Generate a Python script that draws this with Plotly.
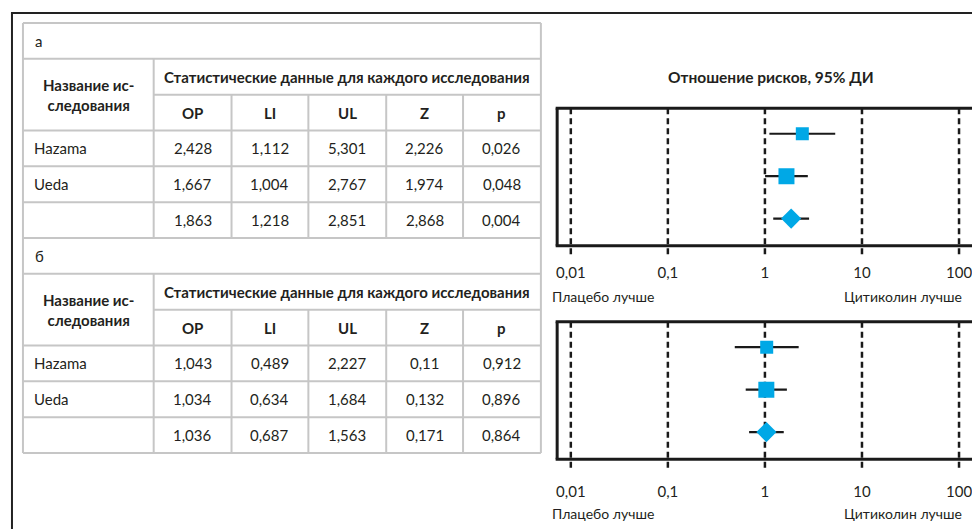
import plotly.graph_objects as go

# ---------------- data ----------------
studies = ["Hazama", "Ueda", ""]
stat_cols = ["ОР", "LI", "UL", "Z", "p"]
panel_labels = ["а", "б"]

a_or = [2.428, 1.667, 1.863]
a_li = [1.112, 1.004, 1.218]
a_ul = [5.301, 2.767, 2.851]
a_z = [2.226, 1.974, 2.868]
a_p = [0.026, 0.048, 0.004]

b_or = [1.043, 1.034, 1.036]
b_li = [0.489, 0.634, 0.687]
b_ul = [2.227, 1.684, 1.563]
b_z = [0.11, 0.132, 0.171]
b_p = [0.912, 0.896, 0.864]

tick_vals = [0.01, 0.1, 1, 10, 100]
tick_text = ["0,01", "0,1", "1", "10", "100"]

title_text = "Отношение рисков, 95% ДИ"
left_label = "Плацебо лучше"
right_label = "Цитиколин лучше"
name_header = "Название ис-<br>следования"
stats_header = "Статистические данные для каждого исследования"

# ---------------- layout helpers ----------------
W, H = 972, 529
FONT = "Lato"
TXT = "#231f20"
GRID = "#c6c6c6"
BLUE = "#00a8e6"
INK = "#1a1a1a"


def px(x):
    return x / W


def py(y):
    return 1 - y / H


shapes = []
annotations = []


def hline(x0, x1, y, color=GRID, width=2):
    shapes.append(dict(type="line", xref="paper", yref="paper",
                       x0=px(x0), x1=px(x1), y0=py(y), y1=py(y),
                       line=dict(color=color, width=width)))


def vline(x, y0, y1, color=GRID, width=2):
    shapes.append(dict(type="line", xref="paper", yref="paper",
                       x0=px(x), x1=px(x), y0=py(y0), y1=py(y1),
                       line=dict(color=color, width=width)))


def text(x, y, s, size=15, bold=False, anchor="center"):
    annotations.append(dict(xref="paper", yref="paper", x=px(x), y=py(y),
                            text=f"<b>{s}</b>" if bold else s,
                            showarrow=False, xanchor=anchor, yanchor="middle",
                            font=dict(family=FONT, size=size, color=TXT)))


def fmt(v):
    return str(v).replace(".", ",")


# outer frame
hline(10, W + 5, 13, color="#222222", width=2)
vline(11, 13, H + 5, color="#222222", width=2)

# ---------------- tables ----------------
TL, TR = 22, 541
col_x = [153, 231, 308, 386, 463, 541]
row0 = 23
rh = (453 - 23) / 12.0

panels = [
    (a_or, a_li, a_ul, a_z, a_p),
    (b_or, b_li, b_ul, b_z, b_p),
]

for pi, vals in enumerate(panels):
    base = pi * 6
    ys = [row0 + (base + k) * rh for k in range(7)]
    for k in range(7):
        if k == 2:
            hline(col_x[0], TR, ys[k])
        else:
            hline(TL, TR, ys[k])
    vline(TL, ys[0], ys[6])
    vline(TR, ys[0], ys[6])
    vline(col_x[0], ys[1], ys[6])
    for cx in col_x[1:-1]:
        vline(cx, ys[2], ys[6])
    text(32, (ys[0] + ys[1]) / 2, panel_labels[pi], size=15, anchor="left")
    text((TL + col_x[0]) / 2, (ys[1] + ys[3]) / 2, name_header, size=15, bold=True)
    text((col_x[0] + TR) / 2, (ys[1] + ys[2]) / 2, stats_header, size=15, bold=True)
    for ci, cname in enumerate(stat_cols):
        text((col_x[ci] + col_x[ci + 1]) / 2, (ys[2] + ys[3]) / 2, cname, size=15, bold=True)
    for r in range(3):
        yc = (ys[3 + r] + ys[4 + r]) / 2
        text(31, yc, studies[r], size=15, anchor="left")
        for ci in range(5):
            text((col_x[ci] + col_x[ci + 1]) / 2, yc, fmt(vals[ci][r]), size=15)

# ---------------- forest plots ----------------
fig = go.Figure()

row_y = [3, 2, 1]
# (box top, box bottom, dashed-line end, tick-label standoff, side-label offset)
plot_boxes = [(108.3, 245.7, 256.0, 16, 50.5), (321.7, 459.3, 471.5, 22, 54)]
yrange = [0.36, 3.6]
x_left, x_right = 557.3, W

for pi, vals in enumerate(panels):
    orv, li, ul = vals[0], vals[1], vals[2]
    xa = "x" if pi == 0 else "x2"
    ya = "y" if pi == 0 else "y2"
    lx, ly = [], []
    for r in range(3):
        lx += [li[r], ul[r], None]
        ly += [row_y[r], row_y[r], None]
    fig.add_trace(go.Scatter(x=lx, y=ly, mode="lines", xaxis=xa, yaxis=ya,
                             line=dict(color=INK, width=2.2),
                             showlegend=False, hoverinfo="skip"))
    fig.add_trace(go.Scatter(x=orv[:2], y=row_y[:2], mode="markers", xaxis=xa, yaxis=ya,
                             marker=dict(symbol="square", size=[13, 16], color=BLUE,
                                         opacity=1, line=dict(width=0)),
                             showlegend=False))
    fig.add_trace(go.Scatter(x=orv[2:], y=row_y[2:], mode="markers", xaxis=xa, yaxis=ya,
                             marker=dict(symbol="diamond", size=15.5, color=BLUE,
                                         opacity=1, line=dict(width=0)),
                             showlegend=False))

    top, bot, dash_end, _st, lab_off = plot_boxes[pi]
    for tv in tick_vals:
        shapes.append(dict(type="line", xref=xa, yref="paper", x0=tv, x1=tv,
                           y0=py(top), y1=py(dash_end), layer="below",
                           line=dict(color=INK, width=2.5, dash="6px,4px")))
    # the box is open on the right, where the figure is cut off
    shapes.append(dict(type="rect", xref="paper", yref="paper",
                       x0=px(965), x1=px(W + 10), y0=py(bot - 1.6), y1=py(top + 1.6),
                       fillcolor="white", line=dict(width=0), layer="above"))
    hline(x_left - 1.5, W + 5, top, color=INK, width=3)
    hline(x_left - 1.5, W + 5, bot, color=INK, width=3)
    vline(x_left, top, bot, color=INK, width=3)
    lab_y = bot + lab_off
    annotations.append(dict(xref="paper", yref="paper", x=px(550), y=py(lab_y),
                            text=left_label, showarrow=False, xanchor="left", yanchor="middle",
                            font=dict(family=FONT, size=14, color=TXT)))
    annotations.append(dict(xref="paper", yref="paper", x=px(965), y=py(lab_y),
                            text=right_label, showarrow=False, xanchor="right", yanchor="middle",
                            font=dict(family=FONT, size=14, color=TXT)))

annotations.append(dict(xref="paper", yref="paper", x=px(772), y=py(77),
                        text=f"<b>{title_text}</b>", showarrow=False,
                        xanchor="center", yanchor="middle",
                        font=dict(family=FONT, size=15.5, color=TXT)))

xr = [-2 - (571 - x_left) / 97.3, 2 + (x_right - 960) / 97.3]

axis_common = dict(type="log", range=xr, showgrid=False, zeroline=False, showline=False,
                   tickvals=tick_vals, ticktext=tick_text, ticks="",
                   ticklabeloverflow="allow",
                   tickfont=dict(family=FONT, size=15, color=TXT),
                   domain=[px(x_left), 1])
yaxis_common = dict(range=yrange, showgrid=False, zeroline=False, showline=False,
                    showticklabels=False, ticks="")

fig.update_layout(
    width=W, height=H, autosize=False,
    margin=dict(l=0, r=0, t=0, b=0),
    paper_bgcolor="white", plot_bgcolor="rgba(0,0,0,0)",
    xaxis=dict(**axis_common, anchor="y", ticklabelstandoff=plot_boxes[0][3]),
    xaxis2=dict(**axis_common, anchor="y2", ticklabelstandoff=plot_boxes[1][3]),
    yaxis=dict(**yaxis_common, anchor="x", domain=[py(245.7), py(108.3)]),
    yaxis2=dict(**yaxis_common, anchor="x2", domain=[py(459.3), py(321.7)]),
    shapes=shapes, annotations=annotations,
    font=dict(family=FONT),
)

fig.write_html(
    "out.html",
    config={"displayModeBar": False},
    post_script="document.body.style.margin='0';document.body.style.overflow='hidden';",
)
